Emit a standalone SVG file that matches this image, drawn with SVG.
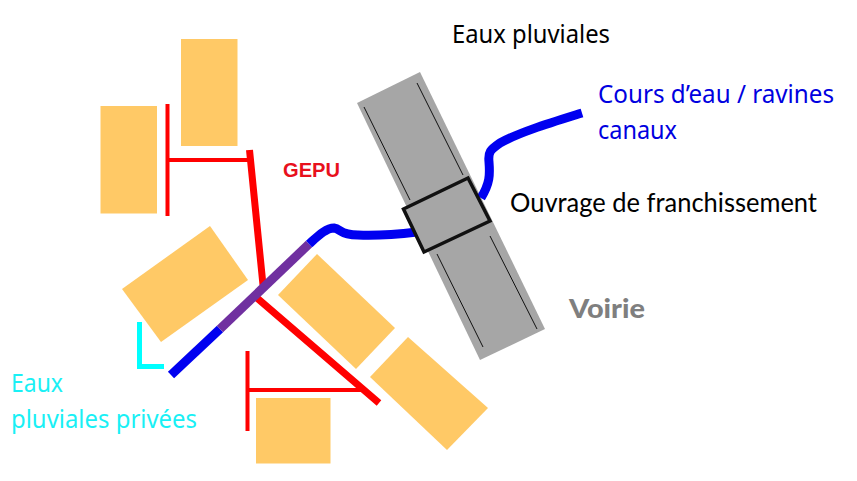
<svg xmlns="http://www.w3.org/2000/svg" width="857" height="481" viewBox="0 0 857 481">
<style>
.b{fill:#ffc966}
.rt{stroke:#ff0000;stroke-width:4;fill:none}
.rk{stroke:#ff0000;stroke-width:7;fill:none}
.bl{stroke:#0000f0;stroke-width:9;fill:none}
.l{stroke:#111;stroke-width:1;fill:none}
text{font-family:"Noto Sans","Open Sans",sans-serif;font-size:24.500px}
</style>
<rect width="857" height="481" fill="#fff"/>
<g id="road">
<polygon points="357,103 420,72 545,329 480,360" fill="#a6a6a6"/>
<path class="l" d="M364,107L410,200M417,83L463,175M437,254L483,347M490,236L537,329"/>
</g>
<g id="buildings">
<rect id="b1" class="b" x="181" y="39" width="56.500" height="107"/>
<rect id="b2" class="b" x="100.500" y="106" width="56.500" height="107.500"/>
<polygon id="b3" class="b" points="210,226 248,280 161,342 122,289"/>
<polygon id="b4" class="b" points="317,254 395,328 356,369 278,295"/>
<polygon id="b5" class="b" points="408,337 488,408 447,450 370,377"/>
<rect id="b6" class="b" x="256" y="398" width="74.500" height="65.500"/>
</g>
<g id="connectors">
<path class="rt" d="M167.500,104V216M168,160H250M247.500,351V431M248,390H361"/>
<path class="rk" d="M249.500,150L263,285M257,298L379,403"/>
<path class="bl" d="M171,375L220,329"/>
<path d="M220,329L309,244" stroke="#7030a0" stroke-width="9" fill="none"/>
<path class="bl" d="M309,244C318,236 326,228 334,228C341,229 340,235 358,235C380,236 400,234 417,232"/>
<path class="bl" stroke-width="8" d="M481,198C490,183 490,175 489,162C488,152 490,150 500,143C520,132 550,123 582,113"/>
<path d="M139.500,322V366.500H164" stroke="#00ffff" stroke-width="5" fill="none"/>
</g>
<g id="culvert">
<polygon points="403.500,209 468,178 490,221 424,252" fill="#a6a6a6" stroke="#111" stroke-width="3.500"/>
<text x="510" y="212" fill="#000" textLength="307" lengthAdjust="spacingAndGlyphs" style="font-family:Lato,sans-serif;font-size:26.500px">Ouvrage de franchissement</text>
</g>
<g id="labels">
<text x="452" y="43" fill="#000" textLength="158" lengthAdjust="spacingAndGlyphs">Eaux pluviales</text>
<text x="598" y="102.500" fill="#0000e0" textLength="236" lengthAdjust="spacingAndGlyphs">Cours d’eau / ravines</text>
<text x="598" y="139" fill="#0000e0" textLength="79" lengthAdjust="spacingAndGlyphs">canaux</text>
<text x="283" y="177" fill="#e8101c" textLength="57" lengthAdjust="spacingAndGlyphs" style="font-family:'Liberation Sans',sans-serif;font-size:20px;font-weight:700">GEPU</text>
<text x="569" y="318" fill="#7f7f7f" textLength="76" lengthAdjust="spacingAndGlyphs" style="font-family:Lato,sans-serif;font-size:27px;font-weight:900">Voirie</text>
<text x="11" y="392" fill="#19f0f5" textLength="52" lengthAdjust="spacingAndGlyphs">Eaux</text>
<text x="11" y="428" fill="#19f0f5" textLength="186" lengthAdjust="spacingAndGlyphs">pluviales privées</text>
</g>
</svg>
